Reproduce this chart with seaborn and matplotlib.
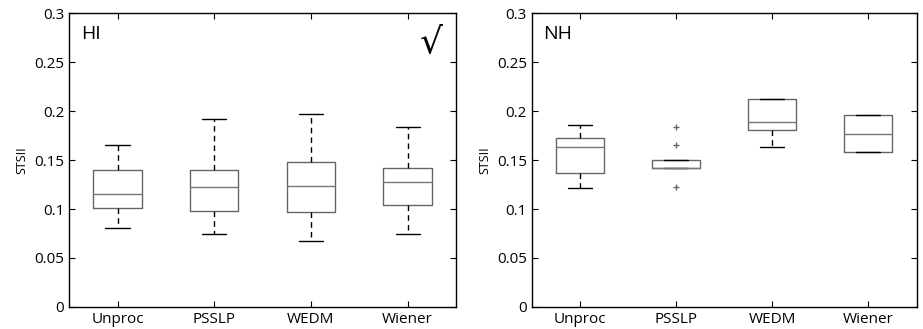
import pandas as pd
import numpy as np
import matplotlib.pyplot as plt
import seaborn as sns

sns.set_style("ticks")
plt.rcParams['font.family'] = ['Open Sans', 'DejaVu Sans']
plt.rcParams['axes.edgecolor'] = 'black'
plt.rcParams['text.color'] = 'black'
plt.rcParams['axes.labelcolor'] = 'black'
plt.rcParams['xtick.color'] = 'black'
plt.rcParams['ytick.color'] = 'black'

METHODS = ['Unproc', 'PSSLP', 'WEDM', 'Wiener']

# HI listeners: values (min, q1, median, q3, max)
hi_unproc = [0.081, 0.101, 0.115, 0.140, 0.165]
hi_psslp = [0.075, 0.098, 0.123, 0.140, 0.192]
hi_wedm = [0.067, 0.097, 0.124, 0.148, 0.197]
hi_wiener = [0.075, 0.104, 0.128, 0.142, 0.184]

# NH listeners
nh_unproc = [0.121, 0.137, 0.163, 0.173, 0.186]
nh_psslp = [0.122, 0.1415, 0.1415, 0.1415, 0.1415, 0.1505, 0.1505, 0.165, 0.184]
nh_wedm = [0.163, 0.181, 0.189, 0.212, 0.212]
nh_wiener = [0.158, 0.158, 0.177, 0.196, 0.196]


def to_frame(groups):
    rows = []
    for name, vals in zip(METHODS, groups):
        rows += [(name, v) for v in vals]
    return pd.DataFrame(rows, columns=['method', 'STSII'])


hi = to_frame([hi_unproc, hi_psslp, hi_wedm, hi_wiener])
nh = to_frame([nh_unproc, nh_psslp, nh_wedm, nh_wiener])

fig = plt.figure(figsize=(9.23, 3.29), dpi=100)
ax1 = fig.add_axes([0.075, 0.067, 0.419, 0.893])
ax2 = fig.add_axes([0.576, 0.067, 0.417, 0.893])

box_kws = dict(
    x='method', y='STSII', order=METHODS, width=0.5, fill=False,
    color='#666666', linewidth=1.0, whis=1.5,
    boxprops=dict(color='#666666'),
    whiskerprops=dict(linestyle=(0, (4, 3)), color='black'),
    capprops=dict(color='black'),
    medianprops=dict(color='#777777'),
    flierprops=dict(marker='+', markersize=5, markeredgecolor='#666666'),
)

for ax, df, label in [(ax1, hi, 'HI'), (ax2, nh, 'NH')]:
    sns.boxplot(data=df, ax=ax, **box_kws)
    ax.set_ylim(0, 0.3)
    ax.set_xlim(-0.5, 3.5)
    ax.set_yticks([0, 0.05, 0.1, 0.15, 0.2, 0.25, 0.3])
    ax.set_yticklabels(['0', '0.05', '0.1', '0.15', '0.2', '0.25', '0.3'])
    ax.set_xlabel('')
    ax.set_ylabel('STSII', fontsize=9)
    ax.tick_params(direction='in', top=True, right=True, length=4,
                   labelsize=11, width=0.8)
    for s in ax.spines.values():
        s.set_visible(True)
        s.set_linewidth(1.0)
    ax.text(0.03, 0.93, label, transform=ax.transAxes, fontsize=14,
            va='center', ha='left')

ax1.text(0.965, 0.90, '\u221a', transform=ax1.transAxes, fontsize=26,
         va='center', ha='right', family=['DejaVu Sans'])

plt.savefig('out.png', dpi=100)
